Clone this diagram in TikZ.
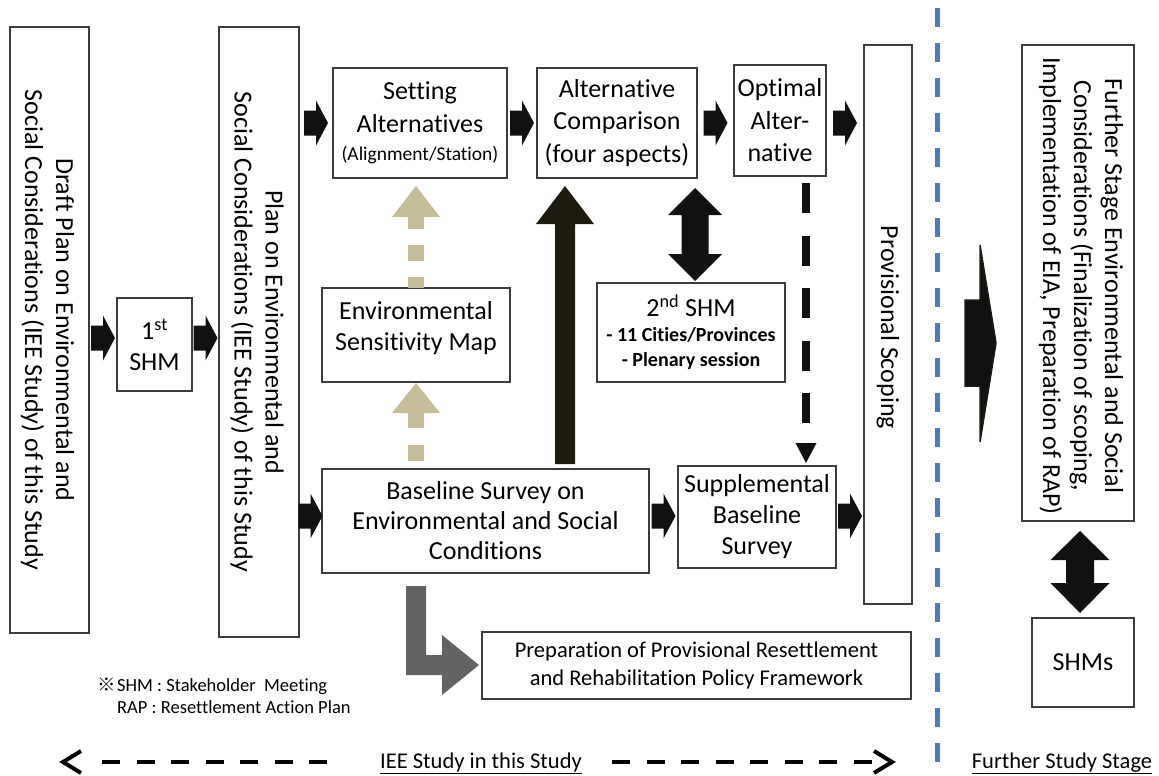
\documentclass[tikz,border=0pt]{standalone}
\usepackage{fontspec}
\setmainfont{Carlito}[Ligatures=NoCommon]
\newfontfamily\cjk{Noto Sans CJK JP}
\usetikzlibrary{calc}

\definecolor{boxline}{HTML}{3C3C3C}
\definecolor{tanarrow}{HTML}{C4BD97}
\definecolor{darkarrow}{HTML}{1D1B10}
\definecolor{blockblack}{HTML}{111111}
\definecolor{grayarrow}{HTML}{636363}
\definecolor{divider}{HTML}{4A7EBB}

% block arrow centred in the gap between two boxes, at height #3
\newcommand\rblock[3]{%
  \fill[blockblack] let \p1=($(#1)!0.5!(#2)$), \p2=(0,#3) in
    (\x1-12pt,\y2+12.5pt) -- (\x1,\y2+12.5pt) -- (\x1,\y2+22.5pt) --
    (\x1+12pt,\y2) -- (\x1,\y2-22.5pt) -- (\x1,\y2-12.5pt) --
    (\x1-12pt,\y2-12.5pt) -- cycle;}

\tikzset{
  box/.style={draw=boxline, line width=1.3pt, fill=white, inner sep=0pt, align=center},
  vlabel/.style={rotate=-90, align=center, inner sep=0pt},
  tallline/.style={font=\fontsize{26}{32.5}\selectfont},
  note/.style={font=\fontsize{18.5}{22}\selectfont, inner sep=0pt},
  stagelabel/.style={font=\fontsize{22.5}{26}\selectfont, inner sep=0pt, anchor=base},
  bottomdash/.style={line width=4pt, dash pattern=on 18pt off 16.5pt},
  chevron/.style={line width=4pt},
}

\begin{document}
\begin{tikzpicture}[x=1pt, y=-1pt, font=\fontsize{26}{31}\selectfont]
\useasboundingbox (0,0) rectangle (1159,776);

% ---------- boxes ----------
\node[box, minimum width=79, minimum height=606] (draft) at (49.5,330) {};
\node[vlabel] (draftlbl) at ($(draft.center)+(-2,0)$)
  {Draft Plan on Environmental and\\Social Considerations (IEE Study) of this Study};

\node[box, minimum width=75, minimum height=93] (shm1) at (154.5,344.5) {1\textsuperscript{st}\\SHM};

\node[box, minimum width=80, minimum height=610] (plan) at (259,332) {};
\node[vlabel] (planlbl) at ($(plan.center)+(-2,0)$)
  {Plan on Environmental and\\Social Considerations (IEE Study) of this Study};

\node[box, tallline, minimum width=174, minimum height=110] (setalt) at (420,123)
  {Setting\\Alternatives\\[-4pt]{\fontsize{19.5}{23}\selectfont(Alignment/Station)}};
\node[box, tallline, minimum width=160, minimum height=110] (altcomp) at (617,123)
  {Alternative\\Comparison\\(four aspects)};
\node[box, tallline, minimum width=92, minimum height=111] (optimal) at (780,120.5)
  {Optimal\\Alter-\\native};

\node[box, minimum width=48, minimum height=559] (prov) at (888,324.5) {};
\node[vlabel] (provlbl) at ($(prov.center)+(0,3)$) {Provisional Scoping};

\node[box, minimum width=112, minimum height=476] (further) at (1078,283) {};
\node[vlabel] (furtherlbl) at ($(further.center)+(3,3)$)
  {Further Stage Environmental and Social\\Considerations (Finalization of scoping,\\Implementation of EIA, Preparation of RAP)};

\node[box, minimum width=102, minimum height=89] (shms) at (1083,662.5) {SHMs};

\node[box, minimum width=188, minimum height=94] (envmap) at (416,335) {};
\node[align=center, inner sep=0pt] (envmaplbl) at ($(envmap.center)+(0,-7)$)
  {Environmental\\Sensitivity Map};

\node[box, minimum width=188, minimum height=99, font=\fontsize{20}{25}\selectfont\bfseries] (shm2) at (691,332.5)
  {{\fontsize{26}{26}\selectfont\mdseries 2\textsuperscript{nd} SHM}\\- 11 Cities/Provinces\\- Plenary session};

\node[box, minimum width=327, minimum height=104, font=\fontsize{26}{30}\selectfont] (baseline) at (485.5,521)
  {Baseline Survey on\\Environmental and Social\\Conditions};

\node[box, minimum width=158, minimum height=102] (supp) at (757,517)
  {Supplemental\\Baseline\\Survey};

\node[box, minimum width=429, minimum height=67, font=\fontsize{22.5}{28}\selectfont] (prep) at (696.5,665.5)
  {Preparation of Provisional Resettlement\\and Rehabilitation Policy Framework};

% ---------- block arrows between boxes ----------
\rblock{draft.east}{shm1.west}{338}
\rblock{shm1.east}{plan.west}{338}
\rblock{plan.east}{setalt.west}{123}
\rblock{setalt.east}{altcomp.west}{123}
\rblock{altcomp.east}{optimal.west}{123}
\rblock{optimal.east}{prov.west}{123}
\rblock{plan.east}{baseline.west}{516}
\rblock{baseline.east}{supp.west}{516}
\rblock{supp.east}{prov.west}{516}

% ---------- tan dashed arrows: baseline -> map -> alternatives ----------
\fill[tanarrow] (392,217) -- (416,186) -- (440,217) -- cycle;
\fill[tanarrow] (408,217) rectangle (424,229);
\fill[tanarrow] (408,245) rectangle (424,261);
\fill[tanarrow] (408,277) rectangle (424,288);
\fill[tanarrow] (392,413) -- (416,383) -- (440,413) -- cycle;
\fill[tanarrow] (408,413) rectangle (424,428);
\fill[tanarrow] (408,445) rectangle (424,461);

% ---------- dark arrow: baseline -> comparison ----------
\fill[darkarrow] (555,464) -- (555,224) -- (536,224) -- (565,186) -- (594,224)
  -- (575,224) -- (575,464) -- cycle;

% ---------- double arrow: comparison <-> 2nd SHM ----------
\fill[blockblack] (681.5,215) -- (668,215) -- (695,188) -- (722,215) -- (708.5,215)
  -- (708.5,254) -- (722,254) -- (695,281) -- (668,254) -- (681.5,254) -- cycle;

% ---------- dashed arrow: optimal -> supplemental ----------
\draw[blockblack, line width=8pt, dash pattern=on 30pt off 22.5pt] (806,183) -- (806,423);
\fill[blockblack] (795.5,443) -- (816.5,443) -- (806,463) -- cycle;

% ---------- grey elbow arrow: baseline -> resettlement framework ----------
\fill[grayarrow] (406,586) -- (426,586) -- (426,655) -- (442,655) -- (442,635)
  -- (479,665) -- (442,695) -- (442,675) -- (406,675) -- cycle;

% ---------- divider ----------
\draw[divider, line width=5pt, dash pattern=on 19pt off 16pt] (937,8) -- (937,776);

% ---------- big arrow to further stage ----------
\filldraw[fill=blockblack, draw=darkarrow, line width=1.5pt]
  (965,300) -- (980,300) -- (980,245) -- (996,343) -- (980,442) -- (980,386) -- (965,386) -- cycle;

% ---------- double arrow: further stage <-> SHMs ----------
\fill[blockblack] (1066,560) -- (1050.5,560) -- (1080,531) -- (1109.5,560) -- (1094,560)
  -- (1094,583) -- (1109.5,583) -- (1080,613) -- (1050.5,583) -- (1066,583) -- cycle;

% ---------- notes ----------
\node[note, anchor=base west] (note1) at (117,691)
  {\llap{{\cjk ※}\hspace{1pt}}SHM : Stakeholder\ \ Meeting};
\node[note, anchor=base west] (note2) at (117,713)
  {RAP : Resettlement Action Plan};

% ---------- stage labels and range arrows ----------
\node[stagelabel] (ieelbl) at (481,768) {\underline{IEE Study in this Study}};
\node[stagelabel] (furtherstage) at (1062,768) {\underline{Further Study Stage}};

\coordinate (ieeL) at (63,762);
\coordinate (ieeR) at (892,762);
\draw[bottomdash] (102,762) -- (327,762);
\draw[chevron] ($(ieeL)+(18,-11)$) -- (ieeL) -- ($(ieeL)+(18,11)$);
\draw[bottomdash] (612,762) -- (880,762);
\draw[chevron] ($(ieeR)+(-18,-11)$) -- (ieeR) -- ($(ieeR)+(-18,11)$);
\end{tikzpicture}
\end{document}
